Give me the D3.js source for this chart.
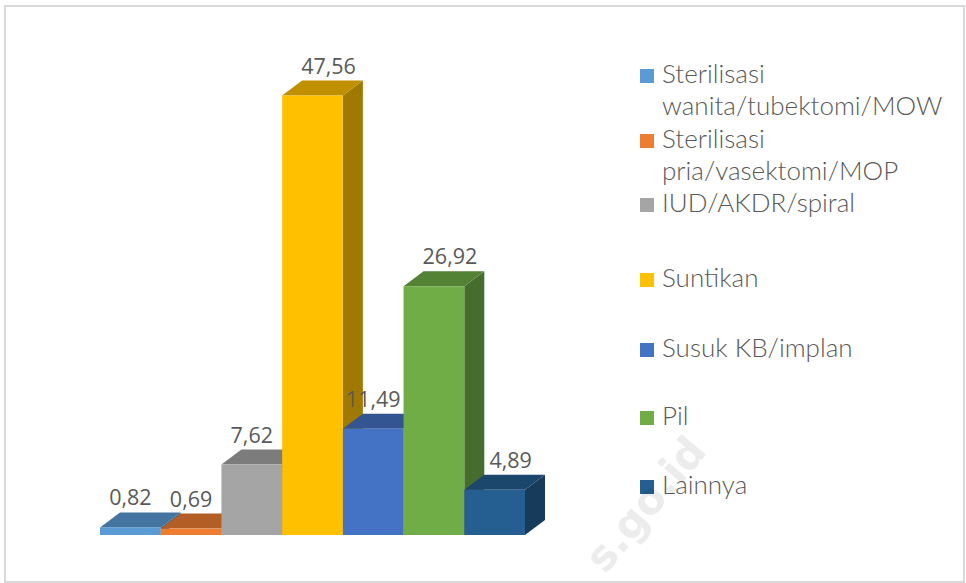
<!DOCTYPE html>
<html><head><meta charset="utf-8">
<script src="https://cdn.jsdelivr.net/npm/d3@7"></script>
<style>body{margin:0;background:#fff;} svg{display:block;}</style>
</head><body>
<svg id="c" width="966" height="583"></svg>
<script>
const categories = ["Sterilisasi wanita/tubektomi/MOW","Sterilisasi pria/vasektomi/MOP","IUD/AKDR/spiral","Suntikan","Susuk KB/implan","Pil","Lainnya"];
const legendLines = [["Sterilisasi","wanita/tubektomi/MOW"],["Sterilisasi","pria/vasektomi/MOP"],["IUD/AKDR/spiral"],["Suntikan"],["Susuk KB/implan"],["Pil"],["Lainnya"]];
const values = [0.82, 0.69, 7.62, 47.56, 11.49, 26.92, 4.89];
const labels = ["0,82","0,69","7,62","47,56","11,49","26,92","4,89"];
const colors = ["#5B9BD5","#ED7D31","#A5A5A5","#FFC000","#4472C4","#70AD47","#255E91"];

const svg = d3.select("#c");
svg.append("rect").attr("x",5).attr("y",6).attr("width",959).attr("height",576)
  .attr("fill","#fff").attr("stroke","#d9d9d9").attr("stroke-width",2);

const x = d3.scaleBand().domain(categories).range([100,525]).padding(0);
const y = d3.scaleLinear().domain([0,50]).range([535,73]);
const DX = 20, DY = -15;

const g = svg.append("g");
values.forEach((v,i)=>{
  const c = d3.color(colors[i]);
  const x0 = x(categories[i]), x1 = x0 + x.bandwidth();
  const yt = y(v), yb = y(0);
  const bar = g.append("g");
  bar.append("polygon").attr("points",[[x1,yt],[x1+DX,yt+DY],[x1+DX,yb+DY],[x1,yb]].map(p=>p.join(",")).join(" "))
    .attr("fill", c.darker(1.3));
  bar.append("polygon").attr("points",[[x0,yt],[x0+DX,yt+DY],[x1+DX,yt+DY],[x1,yt]].map(p=>p.join(",")).join(" "))
    .attr("fill", c.darker(0.8));
  bar.append("rect").attr("x",x0).attr("y",yt).attr("width",x1-x0).attr("height",yb-yt).attr("fill",c);
});
values.forEach((v,i)=>{
  const x0 = x(categories[i]);
  const next = i < values.length-1 ? values[i+1] : 0;
  const sideVisible = (y(next) - y(v)) > 10;
  svg.append("text").attr("x", x0 + x.bandwidth()/2 + (sideVisible ? 16 : 0)).attr("y", y(v) - 22)
    .attr("text-anchor","middle").attr("font-family","Open Sans, sans-serif").attr("font-size",21.5)
    .attr("fill","#595959").text(labels[i]);
});

// legend
const ly = [83,148,212,287,357,425,494];
const lg = svg.append("g").attr("font-family","Lato, sans-serif").attr("font-weight",300).attr("font-size",26).attr("fill","#595959");
legendLines.forEach((lines,i)=>{
  lg.append("rect").attr("x",640).attr("y",ly[i]-14).attr("width",14).attr("height",14).attr("fill",colors[i]);
  lines.forEach((t,j)=>{
    lg.append("text").attr("x",662).attr("y",ly[i]+j*32).text(t);
  });
});

// watermark
svg.append("text").attr("transform","translate(708,452) rotate(-50)").attr("text-anchor","end")
  .attr("font-family","DejaVu Sans, sans-serif").attr("font-weight","bold").attr("font-size",42)
  .attr("fill","#000").attr("opacity",0.07).text("s.go.id");
</script>
</body></html>
